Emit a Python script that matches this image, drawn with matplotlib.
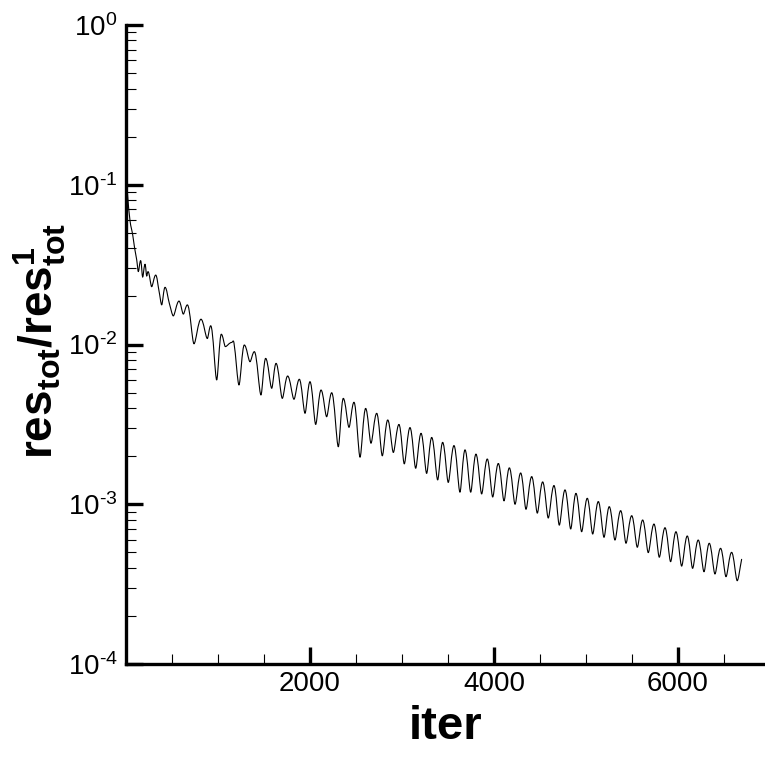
import numpy as np
import matplotlib
matplotlib.use('Agg')
import matplotlib.pyplot as plt
from matplotlib.path import Path
from matplotlib.patches import PathPatch
from matplotlib.ticker import FixedLocator, MultipleLocator, LogLocator, NullFormatter, FixedFormatter

plt.rcParams['font.family'] = ['Liberation Sans', 'DejaVu Sans']
plt.rcParams['mathtext.fontset'] = 'custom'
plt.rcParams['mathtext.rm'] = 'Liberation Sans'
plt.rcParams['mathtext.it'] = 'Liberation Sans:italic'
plt.rcParams['mathtext.bf'] = 'Liberation Sans:bold'
plt.rcParams['mathtext.default'] = 'regular'

# ---- data ----
iters = [0, 15, 43, 73, 94, 116, 134, 159, 181, 207, 225, 239, 279, 323, 359, 388, 424, 471,
         514, 576, 623, 667, 739, 815, 884, 921, 986, 1036, 1080, 1149, 1174, 1228, 1286, 1348,
         1395, 1467, 1518, 1584, 1631, 1699, 1757, 1826, 1884, 1946, 2000, 2062, 2120, 2181,
         2236, 2308, 2362, 2424, 2478, 2544, 2605, 2663, 2725, 2786, 2845, 2906, 2967, 3025,
         3087, 3149, 3207, 3268, 3323, 3388, 3442, 3503, 3565, 3630, 3685, 3747, 3804, 3866,
         3927, 3986, 4047, 4109, 4167, 4229, 4290, 4348, 4410, 4471, 4529, 4590, 4652, 4710,
         4772, 4834, 4891, 4953, 5014, 5073, 5134, 5196, 5253, 5315, 5377, 5435, 5497, 5558,
         5616, 5677, 5739, 5797, 5859, 5920, 5978, 6040, 6101, 6159, 6220, 6283, 6340, 6402,
         6463, 6522, 6583, 6644, 6692]
resid = [0.13, 0.09, 0.060, 0.0485, 0.040, 0.034, 0.0286, 0.0335, 0.0264, 0.0318, 0.0268,
         0.0286, 0.0230, 0.0272, 0.0216, 0.0177, 0.0228, 0.0181, 0.0151, 0.0187, 0.0155,
         0.0177, 0.0101, 0.0144, 0.0109, 0.0131, 0.0060, 0.0116, 0.0097, 0.0103, 0.0102,
         0.00558, 0.00993, 0.0078, 0.00902, 0.00483, 0.00819, 0.00532, 0.00762, 0.0046,
         0.00635, 0.00454, 0.00606, 0.00371, 0.00585, 0.00316, 0.00519, 0.00353, 0.00499,
         0.00229, 0.00460, 0.00303, 0.00435, 0.00197, 0.00398, 0.00241, 0.00371, 0.00201,
         0.00337, 0.00211, 0.00316, 0.00179, 0.00302, 0.00168, 0.00278, 0.00156, 0.00262,
         0.00142, 0.00244, 0.00137, 0.00233, 0.00119, 0.00219, 0.00119, 0.00206, 0.00116,
         0.00192, 0.00111, 0.00180, 0.00105, 0.00169, 0.00100, 0.00157, 0.00093, 0.00149,
         0.00088, 0.00138, 0.00082, 0.00131, 0.00074, 0.00123, 0.00070, 0.00117, 0.000673,
         0.00109, 0.000651, 0.00104, 0.000621, 0.000966, 0.000597, 0.000912, 0.00057,
         0.000848, 0.000538, 0.000797, 0.000498, 0.000752, 0.000466, 0.000713, 0.000437,
         0.000673, 0.000410, 0.000633, 0.000397, 0.000597, 0.000378, 0.00057, 0.000366,
         0.00053, 0.000352, 0.0005, 0.000332, 0.000452]

x_ticks = [2000, 4000, 6000]
x_ticklabels = ['2000', '4000', '6000']
y_ticks = [1e-4, 1e-3, 1e-2, 1e-1, 1e0]
y_ticklabels = ['$10^{\u2010' + '4}$', '$10^{\u2010' + '3}$', '$10^{\u2010' + '2}$',
                '$10^{\u2010' + '1}$', '$10^{0}$']
x_label = 'iter'
y_label = r'$\mathbf{res}_{\mathbf{tot}}\mathbf{/res}_{\mathbf{tot}}^{\mathbf{1}}$'

# ---- figure ----
W, H = 765, 758
fig = plt.figure(figsize=(W / 100, H / 100), dpi=100)
ax = fig.add_axes([126 / W, 94 / H, 639 / W, 639 / H])
ax.set_yscale('log')
ax.set_xlim(0, 6946)
ax.set_ylim(1e-4, 1e0)

# smooth curve through the read points (Hermite -> cubic Bezier in x / log10(y))
lx = np.asarray(iters, float)
ly = np.log10(np.asarray(resid, float))
n = len(lx)
slope = np.zeros(n)
frac = np.full(n, 1 / 3)
for i in range(n):
    if i == 0:
        slope[i] = (ly[1] - ly[0]) / (lx[1] - lx[0])
    elif i == n - 1:
        slope[i] = (ly[-1] - ly[-2]) / (lx[-1] - lx[-2])
    else:
        a = ly[i] - ly[i - 1]
        b = ly[i + 1] - ly[i]
        if a * b <= 0:
            slope[i] = 0.0
            frac[i] = 0.40 if a > 0 else 0.27
        else:
            slope[i] = (ly[i + 1] - ly[i - 1]) / (lx[i + 1] - lx[i - 1])
verts = [(lx[0], 10 ** ly[0])]
codes = [Path.MOVETO]
for i in range(n - 1):
    dx = lx[i + 1] - lx[i]
    c1 = (lx[i] + frac[i] * dx, 10 ** (ly[i] + slope[i] * frac[i] * dx))
    c2 = (lx[i + 1] - frac[i + 1] * dx, 10 ** (ly[i + 1] - slope[i + 1] * frac[i + 1] * dx))
    verts += [c1, c2, (lx[i + 1], 10 ** ly[i + 1])]
    codes += [Path.CURVE4] * 3
curve = PathPatch(Path(verts, codes), transform=ax.transData, fill=False,
                  edgecolor='black', linewidth=0.8, capstyle='round', joinstyle='round')
ax.add_patch(curve)

# spines
for s in ['top', 'right']:
    ax.spines[s].set_visible(False)
for s in ['left', 'bottom']:
    ax.spines[s].set_linewidth(2.4)
    ax.spines[s].set_color('black')

# ticks
ax.xaxis.set_major_locator(FixedLocator(x_ticks))
ax.xaxis.set_major_formatter(FixedFormatter(x_ticklabels))
ax.xaxis.set_minor_locator(MultipleLocator(500))
ax.yaxis.set_major_locator(FixedLocator(y_ticks))
ax.yaxis.set_major_formatter(FixedFormatter(y_ticklabels))
ax.yaxis.set_minor_locator(LogLocator(base=10, subs=np.arange(2, 10), numticks=20))
ax.yaxis.set_minor_formatter(NullFormatter())
ax.tick_params(which='major', direction='in', length=12.5, width=2.4, labelsize=20,
               color='black')
ax.tick_params(axis='x', which='major', pad=5)
ax.tick_params(axis='y', which='major', pad=6)
ax.tick_params(which='minor', direction='in', length=7, width=0.8, color='black')
ax.tick_params(top=False, right=False, which='both')

ax.set_xlabel(x_label, fontsize=34, fontweight='bold', labelpad=6)
ax.set_ylabel(y_label, fontsize=33)
ax.yaxis.set_label_coords(-58 / 639, 0.505)

fig.savefig('out.png', dpi=100)
